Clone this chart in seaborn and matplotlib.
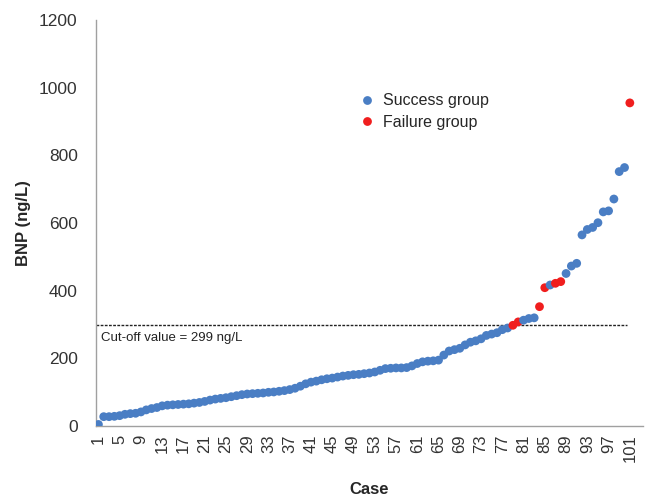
import numpy as np
import pandas as pd
import matplotlib
matplotlib.use("Agg")
import matplotlib.pyplot as plt
import seaborn as sns

# BNP values per case, sorted ascending
bnp_values = [
    5, 28, 28, 29, 31, 35, 37, 38, 42, 48,
    52, 55, 60, 62, 63, 64, 65, 66, 68, 70,
    73, 77, 80, 82, 84, 87, 90, 93, 95, 96,
    97, 98, 100, 101, 103, 105, 108, 112, 118, 125,
    130, 133, 137, 140, 142, 145, 148, 150, 152, 153,
    155, 157, 160, 165, 170, 171, 172, 172, 173, 178,
    185, 190, 192, 193, 195, 210, 222, 226, 230, 240,
    248, 252, 258, 268, 272, 276, 285, 290, 298, 308,
    313, 318, 320, 353, 409, 417, 422, 427, 451, 473,
    481, 565, 581, 587, 601, 633, 636, 671, 752, 764,
    955,
]
failure_cases = [79, 80, 84, 85, 87, 88, 101]
cutoff = 299
n_categories = 103
y_ticks = [0, 200, 400, 600, 800, 1000, 1200]

cases = np.arange(1, len(bnp_values) + 1)
df = pd.DataFrame({
    "case": cases,
    "bnp": bnp_values,
    "group": ["Failure group" if c in failure_cases else "Success group" for c in cases],
})

sns.set_style("white")
plt.rcParams["font.family"] = ["Liberation Sans", "DejaVu Sans"]

fig = plt.figure(figsize=(6.47, 4.99), dpi=100)
ax = fig.add_axes([0.148, 0.146, 0.846, 0.814])

palette = {"Success group": "#4a7ec4", "Failure group": "#f01e1e"}
sns.scatterplot(
    data=df, x="case", y="bnp", hue="group", palette=palette,
    hue_order=["Success group", "Failure group"],
    s=40, edgecolor="none", ax=ax, zorder=3,
)

# cut-off line
ax.plot([0.5, 100.5], [cutoff, cutoff], color="#222222", lw=1.0,
        linestyle=(0, (2, 1)), zorder=2)
ax.text(1.5, cutoff - 20, "Cut-off value = 299 ng/L", fontsize=9.5,
        va="top", ha="left", color="#222222")

ax.set_xlim(0.5, n_categories + 0.5)
ax.set_ylim(0, 1200)
ax.set_yticks(y_ticks)
ax.set_xticks(np.arange(1, 102, 4))
ax.set_xticklabels([str(v) for v in range(1, 102, 4)], rotation=90)
ax.set_xticks(np.arange(0.5, n_categories + 1, 1), minor=True)
ax.tick_params(axis="x", which="major", length=0, pad=6, labelsize=12, labelcolor="#333333")
ax.tick_params(axis="x", which="minor", length=4, width=0.8, color="#a0a0a0", direction="out")
ax.tick_params(axis="y", which="major", length=5, width=0.8, color="#a0a0a0",
               direction="out", labelsize=12.5, labelcolor="#333333", pad=8)

for side in ["top", "right"]:
    ax.spines[side].set_visible(False)
for side in ["left", "bottom"]:
    ax.spines[side].set_color("#a0a0a0")
    ax.spines[side].set_linewidth(1.0)

ax.set_xlabel("Case", fontsize=12, fontweight="bold", labelpad=14)
ax.set_ylabel("BNP (ng/L)", fontsize=12, fontweight="bold", labelpad=6)

ax.legend(loc="upper left", bbox_to_anchor=(0.455, 0.835), frameon=False,
          fontsize=11.5, handletextpad=0.0, labelspacing=0.4, markerscale=1.0,
          borderaxespad=0)

fig.savefig("out.png", dpi=100, facecolor="white")
